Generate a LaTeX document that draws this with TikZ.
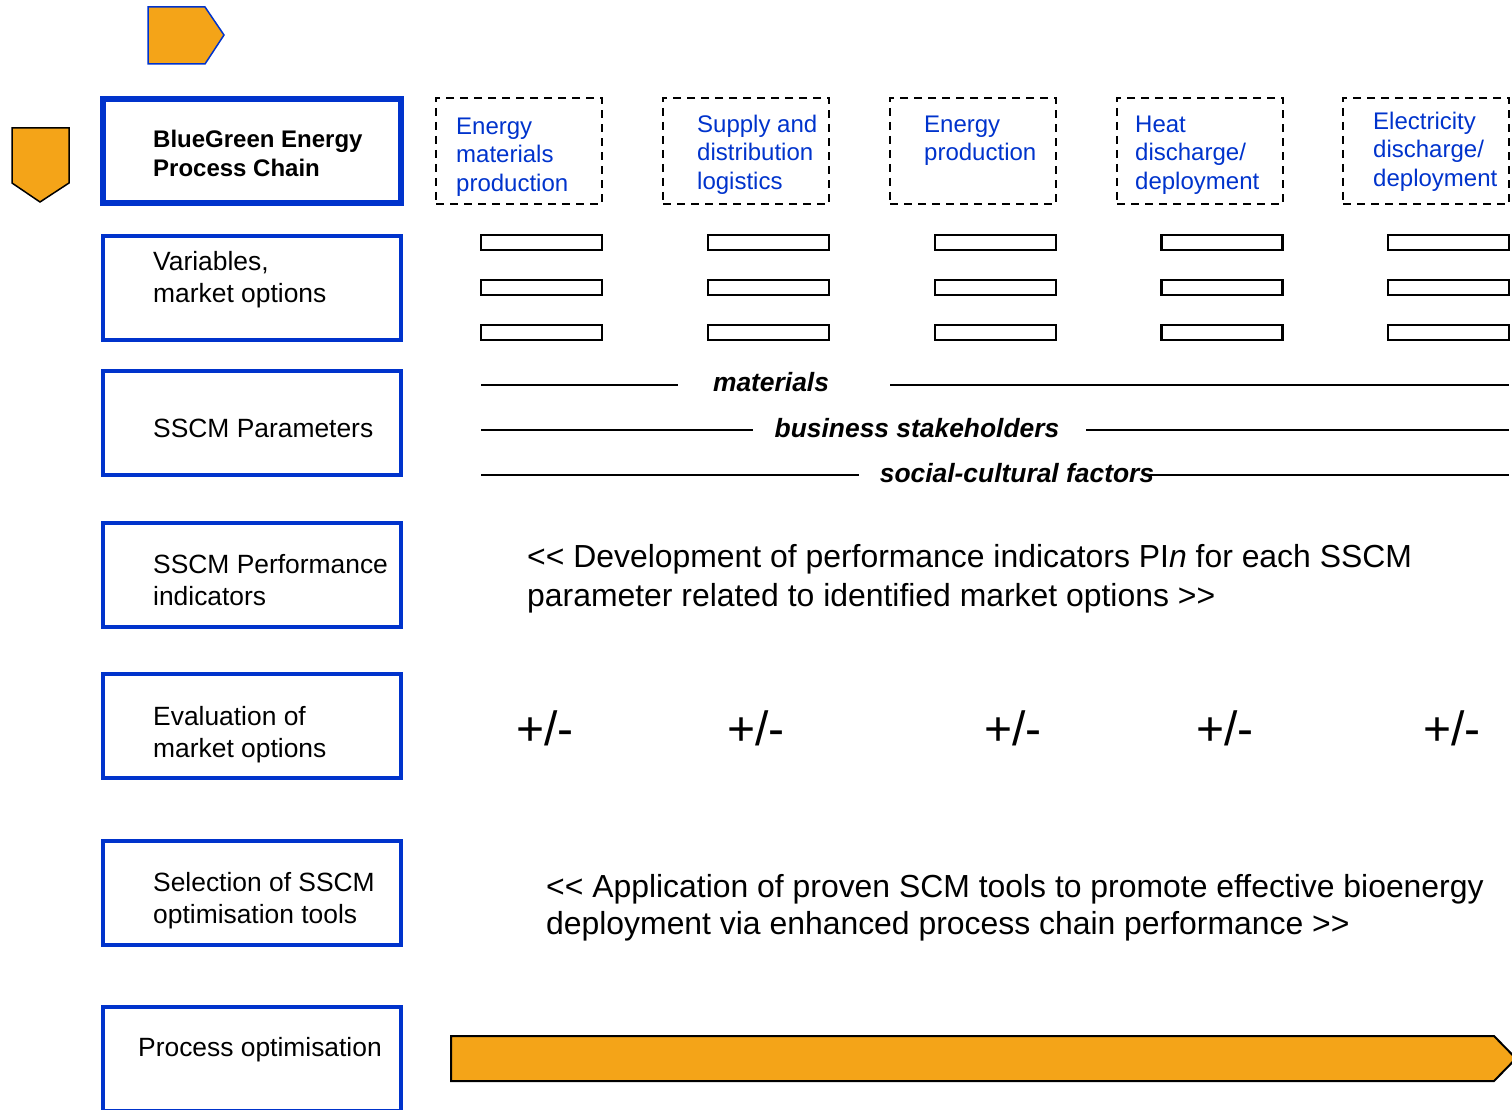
\documentclass[tikz,border=0pt]{standalone}
\usepackage{fontspec}
\setmainfont{Liberation Sans}
\usetikzlibrary{positioning}

\definecolor{chainblue}{RGB}{0,51,204}
\definecolor{chainorange}{RGB}{244,164,24}

\begin{document}
\begin{tikzpicture}[x=1pt, y=-1pt,
  stage/.style={draw=chainblue, line width=4pt, minimum width=298pt, minimum height=104pt, inner sep=0pt},
  stagetext/.style={anchor=base west, align=left, inner sep=0pt, font=\fontsize{26.4}{32}\selectfont},
  phase/.style={draw, line width=2pt, dash pattern=on 8pt off 6pt, minimum width=166pt, minimum height=106pt, inner sep=0pt},
  phasetext/.style={anchor=base west, align=left, inner sep=0pt, text=chainblue, font=\fontsize{24}{28.5}\selectfont},
  slot/.style={draw, line width=2.5pt, minimum width=121pt, minimum height=15pt, inner sep=0pt},
  param/.style={anchor=base, inner sep=0pt, font=\fontsize{26.4}{30}\selectfont\bfseries\itshape},
  note/.style={anchor=base west, align=left, inner sep=0pt},
  score/.style={inner sep=0pt, font=\fontsize{48}{54}\selectfont},
  chevron/.style={fill=chainorange, line width=1.5pt, line join=miter}
]
\useasboundingbox (0,0) rectangle (1512,1110);

% orange markers
\draw[chevron, draw=chainblue] (148,7) -- (205,7) -- (224,35) -- (205,64) -- (148,64) -- cycle;
\draw[chevron, draw=black] (12,128) -- (69,128) -- (69,183) -- (40,202) -- (12,183) -- cycle;

% left column (multi-line text sits on the baseline of its last line)
\node[stage, line width=6pt] (chain) at (252,151.5) {};
\node[anchor=base west, align=left, inner sep=0pt, font=\fontsize{24}{29}\selectfont\bfseries] (chaintxt) at (153,176.5) {BlueGreen Energy\\Process Chain};

\node[stage] (vars) at (252,287.5) {};
\node[stagetext] (varstxt) at (153,302) {Variables,\\market options};
\node[stage] (params) at (252,422.5) {};
\node[stagetext] (paramstxt) at (153,437.5) {SSCM Parameters};
\node[stage] (perf) at (252,574.5) {};
\node[stagetext] (perftxt) at (153,605) {SSCM Performance\\indicators};
\node[stage] (eval) at (252,725.5) {};
\node[stagetext] (evaltxt) at (153,757) {Evaluation of\\market options};
\node[stage] (sel) at (252,892.5) {};
\node[stagetext] (seltxt) at (153,923) {Selection of SSCM\\optimisation tools};
\node[stage] (proc) at (252,1059) {};
\node[stagetext] (proctxt) at (138,1056.7) {Process optimisation};

% process chain phases
\node[phase] (p1) at (519,151) {};
\node[phase] (p2) at (746,151) {};
\node[phase] (p3) at (973,151) {};
\node[phase] (p4) at (1200,151) {};
\node[phase] (p5) at (1426,151) {};
\node[phasetext] (p1txt) at (456,191.5) {Energy\\materials\\production};
\node[phasetext] (p2txt) at (697,189.5) {Supply and\\distribution\\logistics};
\node[phasetext] (p3txt) at (924,161) {Energy\\production};
\node[phasetext] (p4txt) at (1135,189.5) {Heat\\discharge/\\deployment};
\node[phasetext] (p5txt) at (1373,186.5) {Electricity\\discharge/\\deployment};

% option slots
\node[slot] (s11) at (541.5,242.5) {};
\node[slot] (s12) at (541.5,287.5) {};
\node[slot] (s13) at (541.5,332.5) {};
\node[slot] (s21) at (768.5,242.5) {};
\node[slot] (s22) at (768.5,287.5) {};
\node[slot] (s23) at (768.5,332.5) {};
\node[slot] (s31) at (995.5,242.5) {};
\node[slot] (s32) at (995.5,287.5) {};
\node[slot] (s33) at (995.5,332.5) {};
\node[slot] (s41) at (1222,242.5) {};
\node[slot] (s42) at (1222,287.5) {};
\node[slot] (s43) at (1222,332.5) {};
\node[slot] (s51) at (1448.5,242.5) {};
\node[slot] (s52) at (1448.5,287.5) {};
\node[slot] (s53) at (1448.5,332.5) {};

% SSCM parameters
\node[param] (matl) at (771,391) {materials};
\node[param] (stake) at (917,437) {business stakeholders};
\node[param] (social) at (1017,482) {social-cultural factors};
\draw[line width=2pt] (481,385) -- (678,385);
\draw[line width=2pt] (890,385) -- (1509,385);
\draw[line width=2pt] (481,430) -- (753,430);
\draw[line width=2pt] (1086,430) -- (1509,430);
\draw[line width=2pt] (481,475) -- (859,475);
\draw[line width=2pt] (1150,475) -- (1509,475);

% indicators
\node[note, font=\fontsize{31.9}{39}\selectfont] (devnote) at (527,606) {{<}{<} Development of performance indicators PI\textit{n} for each SSCM\\parameter related to identified market options {>}{>}};

% evaluation
\node[score] (e1) at (545,728) {+/-};
\node[score] (e2) at (756,728) {+/-};
\node[score] (e3) at (1013,728) {+/-};
\node[score] (e4) at (1225,728) {+/-};
\node[score] (e5) at (1452,728) {+/-};

% tools
\node[note, font=\fontsize{31.9}{37}\selectfont] (appnote) at (546,934) {{<}{<} Application of proven SCM tools to promote effective bioenergy\\deployment via enhanced process chain performance {>}{>}};

% optimisation arrow
\draw[chevron, draw=black, line width=2pt] (451,1036) -- (1494,1036) -- (1516,1058.5) -- (1494,1081) -- (451,1081) -- cycle;
\end{tikzpicture}
\end{document}
